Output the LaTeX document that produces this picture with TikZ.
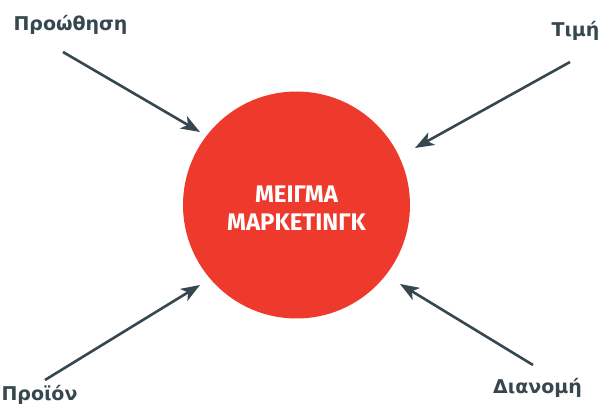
\documentclass[tikz,border=0pt]{standalone}
\usepackage{fontspec}
\setmainfont{DejaVu Sans}
\newfontfamily\circfont{Fira Sans}
\usetikzlibrary{arrows.meta}
\definecolor{mixred}{RGB}{238,58,44}
\definecolor{slate}{RGB}{55,71,79}
\begin{document}
\begin{tikzpicture}[x=1pt,y=-1pt,
  lbl/.style={font=\fontsize{19}{21}\selectfont\bfseries, text=slate, inner sep=0pt, anchor=base},
  feed/.style={draw=slate, line width=2.6pt, -{Stealth[length=19pt,width=14pt,inset=5pt]}},
  hub/.style={circle, fill=mixred, minimum size=227pt, inner sep=0pt},
  hubtext/.style={text=white, align=center, inner sep=0pt,
    font=\circfont\bfseries\fontsize{24}{28}\selectfont}]
\useasboundingbox (0,0) rectangle (603,406);

% central circle and its title
\node[hub] (mix) at (296.5,205) {};
\node[hubtext] (mixtitle) at (296.5,208) {ΜΕΙΓΜΑ\\ΜΑΡΚΕΤΙΝΓΚ};

% the four elements of the mix
\node[lbl] (promo) at (70.5,31) {Προώθηση};
\node[lbl] (price) at (575.5,37) {Τιμή};
\node[lbl] (prod)  at (39.5,400) {Προϊόν};
\node[lbl] (dist)  at (537.5,393) {Διανομή};

% arrow ends
\coordinate (promoTail) at (63,52);
\coordinate (promoTip)  at (200,132);
\coordinate (priceTail) at (570,62);
\coordinate (priceTip)  at (415,148);
\coordinate (prodTail)  at (45,380);
\coordinate (prodTip)   at (200,285);
\coordinate (distTail)  at (533,365);
\coordinate (distTip)   at (400,284);

\draw[feed] (promoTail) -- (promoTip);
\draw[feed] (priceTail) -- (priceTip);
\draw[feed] (prodTail) -- (prodTip);
\draw[feed] (distTail) -- (distTip);
\end{tikzpicture}
\end{document}
